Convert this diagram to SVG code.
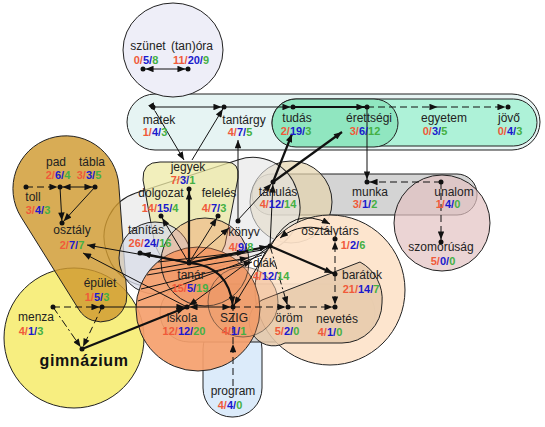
<svg xmlns="http://www.w3.org/2000/svg" width="545" height="427" viewBox="0 0 545 427">
<style>
.l{font-family:"Liberation Sans",Arial,sans-serif;font-size:12px;fill:#222;text-anchor:middle}
.c{font-family:"Liberation Sans",Arial,sans-serif;font-size:11px;font-weight:bold;text-anchor:middle}
.r{fill:#f05a3a}.b{fill:#1a1acc}.g{fill:#44b044}
.sh{stroke:#222;stroke-width:1}
.d{fill:#111}
.e{fill:none;stroke:#111;stroke-width:1}
.t{stroke-width:2.2}
.da{stroke-dasharray:7,4}
.dd{stroke-dasharray:8,3,2,3}
</style>
<defs>
<marker id="a" viewBox="0 0 10 8" refX="13" refY="4" markerWidth="9" markerHeight="6.5" orient="auto-start-reverse" markerUnits="userSpaceOnUse"><path d="M0,0 L10,4 L0,8 z" fill="#111"/></marker>
<marker id="m" viewBox="0 0 10 8" refX="10" refY="4" markerWidth="9" markerHeight="6.5" orient="auto" markerUnits="userSpaceOnUse"><path d="M0,0 L10,4 L0,8 z" fill="#111"/></marker>
</defs>
<rect width="545" height="427" fill="#fff"/>
<g id="clusters">
<rect class="sh" x="127" y="94" width="413" height="56" rx="28" fill="#e6f4f3"/>
<rect class="sh" x="272" y="99" width="265" height="47" rx="23.5" fill="#aef2d8"/>
<rect class="sh" x="272" y="99" width="126" height="48" rx="24" fill="#90e6c0"/>
<ellipse class="sh" cx="173" cy="50" rx="50" ry="47" fill="#eeeef8"/>
<rect class="sh" x="252" y="174" width="225" height="41" rx="20" fill="#cfcfcf" fill-opacity="0.9"/>
<circle class="sh" cx="291" cy="202" r="41" fill="#e6d4ae" fill-opacity="0.7"/>
<circle class="sh" cx="442" cy="223" r="48" fill="#e2c2c2" fill-opacity="0.7"/>
<rect class="sh" x="-100" y="-48" width="200" height="96" rx="46" fill="#e4e4e4" fill-opacity="0.6" transform="translate(202,222) rotate(-18)"/>
<circle class="sh" cx="74" cy="338" r="70" fill="#f7ee80"/>
<path class="sh" d="M118.8,185.1 A53,53 0 1 0 21.1,217.1 L79,309.8 A26,26 0 0 0 126.9,294.1 Z" fill="#d09a30" fill-opacity="0.82"/>
<path class="sh" d="M160,162 L226,162 Q240,162 238,178 L225,245 Q212,275 190,275 Q168,275 155,245 L143,180 Q142,162 160,162 Z" fill="#eeeaa6" fill-opacity="0.75"/>
<circle class="sh" cx="155" cy="258" r="36" fill="#d8dce8" fill-opacity="0.75"/>
<rect class="sh" x="203" y="320" width="59" height="97" rx="29" fill="#dcebfa"/>
<rect class="sh" x="160" y="284" width="215" height="58" rx="29" fill="#d4d4d4"/>
<circle class="sh" cx="330" cy="290" r="75" fill="#fde3ca" fill-opacity="0.92"/>
<path class="sh" d="M262,300 L360,262 A42,42 0 0 1 382,303 A40,40 0 0 1 342,343 L285,343 A22,22 0 0 1 262,300 Z" fill="#e6caac" fill-opacity="0.85"/>
<circle class="sh" cx="198" cy="309" r="62" fill="#f5a06c" fill-opacity="0.92"/>
<circle class="sh" cx="205" cy="262" r="44" fill="#ee8c58" fill-opacity="0.35"/>
<circle class="sh" cx="243" cy="302" r="35" fill="#e89868" fill-opacity="0.3" stroke-opacity="0.5"/>
</g>
<g id="edges">
<path class="e" d="M143,69 L188,69" marker-start="url(#a)" marker-end="url(#a)"/>
<path class="e" d="M153,107 L224,107" marker-end="url(#a)"/>
<path class="e" d="M224,107 L293,107" marker-end="url(#a)"/>
<path class="e t" d="M293,107 L367,107" marker-end="url(#a)"/>
<path class="e da" d="M367,107 L440,107" marker-end="url(#a)"/>
<path class="e da" d="M440,107 L508,107" marker-end="url(#a)"/>
<path class="e" d="M367,107 L367,182" marker-end="url(#a)"/>
<path class="e da" d="M441,182 L367,182" marker-end="url(#a)"/>
<path class="e da" d="M441,182 L441,242" marker-end="url(#a)"/>
<path class="e" d="M155,111 L184,160" marker-start="url(#m)" marker-end="url(#m)"/>
<path class="e" d="M192,160 L224,107" marker-end="url(#a)"/>
<path class="e t" d="M189,263 L189,189" marker-end="url(#a)"/>
<path class="e" d="M189,263 L161,216" marker-end="url(#a)"/>
<path class="e" d="M189,263 L218,216" marker-end="url(#a)"/>
<path class="e t" d="M189,263 L140,253" marker-end="url(#a)"/>
<path class="e" d="M189,263 L229,228" marker-end="url(#m)"/>
<path class="e t" d="M189,263 L270,246" marker-end="url(#a)"/>
<path class="e t" d="M189,263 Q229,266 233,307" marker-end="url(#a)"/>
<path class="e" d="M189,263 L87,245" marker-end="url(#m)"/>
<path class="e" d="M187,307 L83,253" marker-end="url(#m)"/>
<path class="e" d="M158,262 L245,252" marker-end="url(#m)"/>
<path class="e" d="M147,275 L248,258" marker-end="url(#m)"/>
<path class="e" d="M141,289 L252,262" marker-end="url(#m)"/>
<path class="e" d="M138,301 L262,255"/>
<path class="e" d="M150,270 L262,250"/>
<path class="e" d="M102,307 L187,307" marker-end="url(#a)"/>
<path class="e da" d="M53,307 L102,307" marker-end="url(#a)"/>
<path class="e dd" d="M53,307 L82,349" marker-end="url(#a)"/>
<path class="e da" d="M102,307 L82,349" marker-end="url(#a)"/>
<path class="e t" d="M82,349 L187,307" marker-end="url(#a)"/>
<path class="e" d="M187,307 L233,307" marker-start="url(#a)" marker-end="url(#a)"/>
<path class="e da" d="M233,307 L288,307" marker-end="url(#a)"/>
<path class="e da" d="M288,307 L335,307" marker-end="url(#a)"/>
<path class="e da" d="M335,274 L335,307" marker-end="url(#a)"/>
<path class="e da" d="M335,274 L335,239" marker-end="url(#a)"/>
<path class="e da" d="M233,386 L233,344" marker-end="url(#m)"/>
<path class="e da" d="M233,344 L233,309"/>
<path class="e t" d="M270,246 L335,274" marker-end="url(#a)"/>
<path class="e dd" d="M270,246 L288,307" marker-end="url(#a)"/>
<path class="e" d="M270,246 L233,307" marker-end="url(#a)"/>
<path class="e" d="M270,246 L187,307" marker-end="url(#a)"/>
<path class="e" d="M270,246 L273,182" marker-end="url(#a)"/>
<path class="e" d="M237,221 L273,182" marker-end="url(#a)"/>
<path class="e" d="M238,221 L238,140" marker-end="url(#m)"/>
<path class="e t" d="M273,182 L292,134" marker-end="url(#m)"/>
<path class="e t" d="M273,182 L342,132" marker-end="url(#m)"/>
<path class="e" d="M272,244 Q292,205 330,224" marker-end="url(#m)"/>
<path class="e" d="M332,232 Q302,220 280,238" marker-end="url(#m)"/>
<path class="e da" d="M26,187 L60,187" marker-end="url(#a)"/>
<path class="e" d="M60,187 L95,187" marker-start="url(#a)" marker-end="url(#a)"/>
<path class="e" d="M60,187 L62,223" marker-end="url(#a)"/>
<path class="e" d="M95,187 L62,223" marker-end="url(#a)"/>
</g>
<g id="n-szunet"><circle class="d" cx="143" cy="69" r="2.5"/><text class="l" x="148" y="50">szünet</text><text class="c" x="146" y="64"><tspan class="r">0/</tspan><tspan class="b">5/</tspan><tspan class="g">8</tspan></text></g>
<g id="n-tanora"><circle class="d" cx="188" cy="69" r="2.5"/><text class="l" x="192" y="50">(tan)óra</text><text class="c" x="191" y="64"><tspan class="r">11/</tspan><tspan class="b">20/</tspan><tspan class="g">9</tspan></text></g>
<g id="n-matek"><circle class="d" cx="153" cy="107" r="2.5"/><text class="l" x="159" y="124">matek</text><text class="c" x="155" y="136"><tspan class="r">1/</tspan><tspan class="b">4/</tspan><tspan class="g">3</tspan></text></g>
<g id="n-tantargy"><circle class="d" cx="224" cy="107" r="2.5"/><text class="l" x="244" y="124">tantárgy</text><text class="c" x="240" y="136"><tspan class="r">4/</tspan><tspan class="b">7/</tspan><tspan class="g">5</tspan></text></g>
<g id="n-tudas"><circle class="d" cx="293" cy="107" r="2.5"/><text class="l" x="297" y="122">tudás</text><text class="c" x="296" y="135"><tspan class="r">2/</tspan><tspan class="b">19/</tspan><tspan class="g">3</tspan></text></g>
<g id="n-erettsegi"><circle class="d" cx="367" cy="107" r="2.5"/><text class="l" x="369" y="122">érettségi</text><text class="c" x="365" y="135"><tspan class="r">3/</tspan><tspan class="b">6/</tspan><tspan class="g">12</tspan></text></g>
<g id="n-egyetem"><text class="l" x="444" y="122">egyetem</text><text class="c" x="435" y="135"><tspan class="r">0/</tspan><tspan class="b">3/</tspan><tspan class="g">5</tspan></text></g>
<g id="n-jovo"><circle class="d" cx="508" cy="107" r="2.5"/><text class="l" x="509" y="122">jövő</text><text class="c" x="510" y="135"><tspan class="r">0/</tspan><tspan class="b">4/</tspan><tspan class="g">3</tspan></text></g>
<g id="n-munka"><circle class="d" cx="367" cy="182" r="2.5"/><text class="l" x="370" y="196">munka</text><text class="c" x="365" y="208"><tspan class="r">3/</tspan><tspan class="b">1/</tspan><tspan class="g">2</tspan></text></g>
<g id="n-unalom"><circle class="d" cx="441" cy="182" r="2.5"/><text class="l" x="454" y="196">unalom</text><text class="c" x="448" y="208"><tspan class="r">1/</tspan><tspan class="b">4/</tspan><tspan class="g">0</tspan></text></g>
<g id="n-szomorusag"><circle class="d" cx="441" cy="242" r="2.5"/><text class="l" x="441" y="251">szomorúság</text><text class="c" x="443" y="265"><tspan class="r">5/</tspan><tspan class="b">0/</tspan><tspan class="g">0</tspan></text></g>
<g id="n-pad"><circle class="d" cx="60" cy="187" r="2.5"/><text class="l" x="56" y="166">pad</text><text class="c" x="58" y="179"><tspan class="r">2/</tspan><tspan class="b">6/</tspan><tspan class="g">4</tspan></text></g>
<g id="n-tabla"><circle class="d" cx="95" cy="187" r="2.5"/><text class="l" x="92" y="166">tábla</text><text class="c" x="89" y="179"><tspan class="r">3/</tspan><tspan class="b">3/</tspan><tspan class="g">5</tspan></text></g>
<g id="n-toll"><circle class="d" cx="26" cy="187" r="2.5"/><text class="l" x="33" y="201">toll</text><text class="c" x="38" y="214"><tspan class="r">3/</tspan><tspan class="b">4/</tspan><tspan class="g">3</tspan></text></g>
<g id="n-osztaly"><circle class="d" cx="62" cy="223" r="2.5"/><text class="l" x="72" y="234">osztály</text><text class="c" x="72" y="249"><tspan class="r">2/</tspan><tspan class="b">7/</tspan><tspan class="g">7</tspan></text></g>
<g id="n-jegyek"><circle class="d" cx="189" cy="189" r="2.5"/><text class="l" x="188" y="171">jegyek</text><text class="c" x="183" y="184"><tspan class="r">7/</tspan><tspan class="b">3/</tspan><tspan class="g">1</tspan></text></g>
<g id="n-dolgozat"><circle class="d" cx="161" cy="216" r="2.5"/><text class="l" x="161" y="197">dolgozat</text><text class="c" x="160" y="212"><tspan class="r">14/</tspan><tspan class="b">15/</tspan><tspan class="g">4</tspan></text></g>
<g id="n-feleles"><circle class="d" cx="218" cy="216" r="2.5"/><text class="l" x="219" y="197">felelés</text><text class="c" x="214" y="212"><tspan class="r">4/</tspan><tspan class="b">7/</tspan><tspan class="g">3</tspan></text></g>
<g id="n-tanitas"><circle class="d" cx="140" cy="253" r="2.5"/><text class="l" x="146" y="234">tanítás</text><text class="c" x="150" y="247"><tspan class="r">26/</tspan><tspan class="b">24/</tspan><tspan class="g">16</tspan></text></g>
<g id="n-konyv"><circle class="d" cx="238" cy="221" r="2.5"/><text class="l" x="244" y="236">könyv</text><text class="c" x="241" y="251"><tspan class="r">4/</tspan><tspan class="b">9/</tspan><tspan class="g">8</tspan></text></g>
<g id="n-tanulas"><circle class="d" cx="273" cy="182" r="2.5"/><text class="l" x="278" y="196">tanulás</text><text class="c" x="278" y="208"><tspan class="r">4/</tspan><tspan class="b">12/</tspan><tspan class="g">14</tspan></text></g>
<g id="n-osztalytars"><circle class="d" cx="335" cy="239" r="2.5"/><text class="l" x="330" y="235">osztálytárs</text><text class="c" x="353" y="249"><tspan class="r">1/</tspan><tspan class="b">2/</tspan><tspan class="g">6</tspan></text></g>
<g id="n-diak"><circle class="d" cx="270" cy="246" r="2.5"/><text class="l" x="264" y="267">diák</text><text class="c" x="271" y="280"><tspan class="r">4/</tspan><tspan class="b">12/</tspan><tspan class="g">14</tspan></text></g>
<g id="n-baratok"><circle class="d" cx="335" cy="274" r="2.5"/><text class="l" x="362" y="279">barátok</text><text class="c" x="361" y="293"><tspan class="r">21/</tspan><tspan class="b">14/</tspan><tspan class="g">7</tspan></text></g>
<g id="n-nevetes"><circle class="d" cx="335" cy="307" r="2.5"/><text class="l" x="337" y="323">nevetés</text><text class="c" x="330" y="336"><tspan class="r">4/</tspan><tspan class="b">1/</tspan><tspan class="g">0</tspan></text></g>
<g id="n-orom"><circle class="d" cx="288" cy="307" r="2.5"/><text class="l" x="289" y="322">öröm</text><text class="c" x="287" y="335"><tspan class="r">5/</tspan><tspan class="b">2/</tspan><tspan class="g">0</tspan></text></g>
<g id="n-szig"><circle class="d" cx="233" cy="307" r="2.5"/><text class="l" x="234" y="322">SZIG</text><text class="c" x="234" y="335"><tspan class="r">4/</tspan><tspan class="b">1/</tspan><tspan class="g">1</tspan></text></g>
<g id="n-iskola"><circle class="d" cx="187" cy="307" r="2.5"/><text class="l" x="182" y="322">iskola</text><text class="c" x="184" y="335"><tspan class="r">12/</tspan><tspan class="b">12/</tspan><tspan class="g">20</tspan></text></g>
<g id="n-tanar"><circle class="d" cx="189" cy="263" r="2.5"/><text class="l" x="191" y="279">tanár</text><text class="c" x="190" y="292"><tspan class="r">15/</tspan><tspan class="b">5/</tspan><tspan class="g">19</tspan></text></g>
<g id="n-epulet"><circle class="d" cx="102" cy="307" r="2.5"/><text class="l" x="100" y="287">épület</text><text class="c" x="97" y="301"><tspan class="r">1/</tspan><tspan class="b">5/</tspan><tspan class="g">3</tspan></text></g>
<g id="n-menza"><circle class="d" cx="53" cy="307" r="2.5"/><text class="l" x="36" y="321">menza</text><text class="c" x="31" y="335"><tspan class="r">4/</tspan><tspan class="b">1/</tspan><tspan class="g">3</tspan></text></g>
<g id="n-gimnazium"><circle class="d" cx="82" cy="349" r="2.5"/><text x="84" y="366" font-family="'Liberation Sans',Arial,sans-serif" font-size="16" font-weight="bold" letter-spacing="0.6" text-anchor="middle" fill="#111">gimnázium</text></g>
<g id="n-program"><text class="l" x="233" y="395">program</text><text class="c" x="230" y="409"><tspan class="r">4/</tspan><tspan class="b">4/</tspan><tspan class="g">0</tspan></text></g>
</svg>
